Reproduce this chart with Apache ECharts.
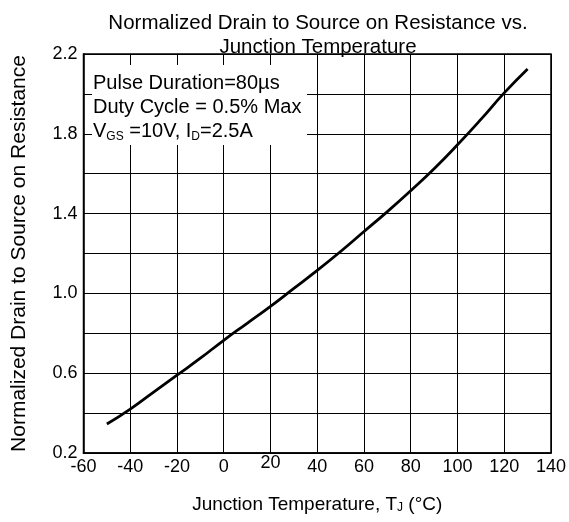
<!DOCTYPE html>
<html>
<head>
<meta charset="utf-8">
<script src="https://cdn.jsdelivr.net/npm/echarts@6/dist/echarts.min.js"></script>
<style>
html,body{margin:0;padding:0;background:#fff;}
#c{width:569px;height:522px;}
</style>
</head>
<body>
<div id="c"></div>
<script>
// Data
const tempC = [-50, -40, -30, -20, -10, 0, 10, 20, 30, 40, 50, 60, 70, 80, 90, 100, 110, 120, 130];
const rdsNorm = [0.345, 0.42, 0.505, 0.59, 0.675, 0.765, 0.85, 0.935, 1.025, 1.115, 1.21, 1.31, 1.41, 1.515, 1.625, 1.745, 1.872, 2.005, 2.125];
const xTickLabels = ['-60', '-40', '-20', '0', '20', '40', '60', '80', '100', '120', '140'];
const yTickLabels = ['0.2', '0.6', '1.0', '1.4', '1.8', '2.2'];
const titleLines = ['Normalized Drain to Source on Resistance vs.', 'Junction Temperature'];
const noteLines = ['Pulse Duration=80µs', 'Duty Cycle = 0.5% Max', 'V{sub|GS} =10V, I{sub|D}=2.5A'];

const FONT = "'Liberation Sans', Arial, sans-serif";
const chart = echarts.init(document.getElementById('c'), null, {renderer: 'canvas'});
const seriesData = tempC.map((t, i) => [t, rdsNorm[i]]);

chart.setOption({
  backgroundColor: '#fff',
  animation: false,
  textStyle: {fontFamily: FONT, color: '#000'},
  title: {
    text: titleLines.join('\n'),
    left: 318, top: 11, textAlign: 'center', padding: 0,
    textStyle: {fontFamily: FONT, fontSize: 20.5, fontWeight: 'normal', color: '#000', lineHeight: 24}
  },
  grid: {left: 83.5, right: 16, top: 54, bottom: 69, show: true, borderColor: '#000', borderWidth: 1.5, backgroundColor: 'transparent'},
  xAxis: {
    type: 'value', min: -60, max: 140, interval: 20,
    name: 'Junction Temperature, T{sub|J} (°C)',
    nameLocation: 'middle', nameGap: 42,
    nameTextStyle: {fontFamily: FONT, fontSize: 19, color: '#000',
      rich: {sub: {fontFamily: FONT, fontSize: 12, color: '#000', verticalAlign: 'bottom', lineHeight: 16}}},
    axisLine: {show: true, onZero: false, lineStyle: {color: '#000', width: 1.5}},
    axisTick: {show: false},
    splitLine: {show: true, lineStyle: {color: '#000', width: 1}},
    axisLabel: {
      fontFamily: FONT, fontSize: 18, color: '#000', margin: 14, verticalAlign: 'middle',
      formatter: function (v) {
        const s = xTickLabels.find(l => Number(l) === v) || '';
        return (s === '20' ? '{up|' : '{n|') + s + '}';
      },
      rich: {
        n: {fontFamily: FONT, fontSize: 18, color: '#000', lineHeight: 20},
        up: {fontFamily: FONT, fontSize: 18, color: '#000', lineHeight: 20, padding: [0, 0, 8, 0]}
      }
    }
  },
  yAxis: {
    type: 'value', min: 0.2, max: 2.2, interval: 0.2,
    name: 'Normalized Drain to Source on Resistance',
    nameLocation: 'middle', nameGap: 54, nameRotate: 90,
    nameTextStyle: {fontFamily: FONT, fontSize: 21, color: '#000'},
    axisLine: {show: true, onZero: false, lineStyle: {color: '#000', width: 1.5}},
    axisTick: {show: false},
    splitLine: {show: true, lineStyle: {color: '#000', width: 1}},
    axisLabel: {
      fontFamily: FONT, fontSize: 18, color: '#000', margin: 6,
      formatter: function (v) {
        const s = yTickLabels.find(l => Math.abs(Number(l) - v) < 1e-6);
        return s || '';
      }
    }
  },
  graphic: [
    {type: 'rect', left: 92, top: 65, shape: {width: 215, height: 80}, style: {fill: '#fff'}, z: 100},
    {type: 'text', left: 93, top: 71, z: 101,
      style: {
        text: noteLines.join('\n'),
        font: '20px ' + FONT, fill: '#000', lineHeight: 24,
        rich: {sub: {fontFamily: FONT, fontSize: 12, fill: '#000', verticalAlign: 'bottom', lineHeight: 17}}
      }
    }
  ],
  series: [{
    type: 'line', data: seriesData, smooth: true, showSymbol: false,
    lineStyle: {color: '#000', width: 2.8}, z: 5
  }]
});
</script>
</body>
</html>
